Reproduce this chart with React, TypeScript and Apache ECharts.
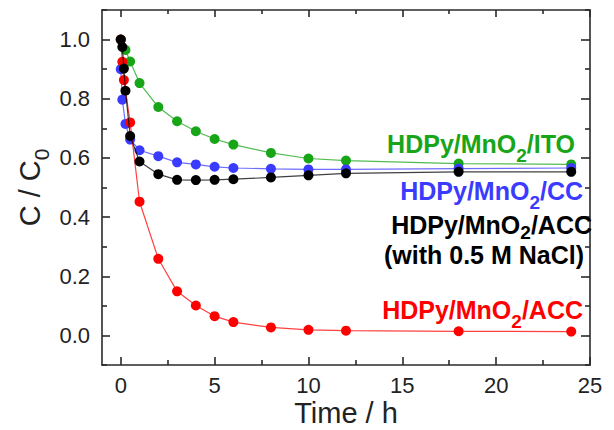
import React, { useEffect, useRef } from "react";
import * as echarts from "echarts";

// Time (h) and C/C0 for each electrode
const itoTime = [0, 0.25, 0.5, 1, 2, 3, 4, 5, 6, 8, 10, 12, 18, 24];
const itoRatio = [1.0, 0.965, 0.926, 0.853, 0.772, 0.724, 0.69, 0.664, 0.645, 0.617, 0.598, 0.591, 0.581, 0.578];

const ccTime = [0, 0.083, 0.25, 0.5, 1, 2, 3, 4, 5, 6, 8, 10, 12, 18, 24];
const ccRatio = [0.9, 0.797, 0.715, 0.662, 0.626, 0.606, 0.585, 0.578, 0.57, 0.566, 0.563, 0.561, 0.561, 0.564, 0.566];

const accTime = [0, 0.083, 0.167, 0.5, 1, 2, 3, 4, 5, 6, 8, 10, 12, 18, 24];
const accRatio = [1.0, 0.925, 0.863, 0.72, 0.452, 0.259, 0.149, 0.101, 0.065, 0.045, 0.027, 0.019, 0.016, 0.014, 0.013];

const naclTime = [0, 0.083, 0.167, 0.25, 0.5, 1, 2, 3, 4, 5, 6, 8, 10, 12, 18, 24];
const naclRatio = [1.0, 0.975, 0.902, 0.827, 0.674, 0.588, 0.545, 0.526, 0.525, 0.526, 0.528, 0.534, 0.541, 0.548, 0.553, 0.553];

// Axis ticks
const xMajorTicks = [0, 5, 10, 15, 20, 25];
const xMinorTicks = [2.5, 7.5, 12.5, 17.5, 22.5];
const yMajorTicks = [0, 0.2, 0.4, 0.6, 0.8, 1.0];
const yMinorTicks = [-0.1, 0.1, 0.3, 0.5, 0.7, 0.9, 1.1];

const GREEN = "#18a518";
const BLUE = "#3b3bff";
const RED = "#ff0000";
const BLACK = "#000000";

const FONT = '"Liberation Sans", Arial, Helvetica, sans-serif';
const AXIS_COLOR = "#2a2a2a";

const pairs = (t: number[], v: number[]) => t.map((x, i) => [x, v[i]]);

function makeSeries(name: string, t: number[], v: number[], color: string, z: number) {
  return {
    name,
    type: "line",
    data: pairs(t, v),
    xAxisIndex: 0,
    yAxisIndex: 0,
    symbol: "circle",
    symbolSize: 10,
    z,
    itemStyle: { color },
    lineStyle: { color, width: 1.2, opacity: 0.75 },
  };
}

function xAxisDef(position: "bottom" | "top", ticks: number[], len: number, main: boolean, line: boolean) {
  return {
    type: "value",
    position,
    min: -1,
    max: 25,
    axisLine: { show: line, onZero: false, lineStyle: { color: AXIS_COLOR, width: 1.6 } },
    axisTick: { show: true, inside: true, length: len, customValues: ticks, lineStyle: { color: AXIS_COLOR, width: 1.6 } },
    axisLabel: main
      ? { show: true, customValues: ticks, margin: 9, fontSize: 22, fontFamily: FONT, color: "#222" }
      : { show: false },
    splitLine: { show: false },
    ...(main
      ? {
          name: "Time / h",
          nameLocation: "middle",
          nameGap: 33,
          nameMoveOverlap: false,
          nameTextStyle: { fontSize: 29, fontFamily: FONT, color: "#222" },
        }
      : {}),
  };
}

function yAxisDef(position: "left" | "right", ticks: number[], len: number, main: boolean, line: boolean) {
  return {
    type: "value",
    position,
    min: -0.1,
    max: 1.1,
    axisLine: { show: line, onZero: false, lineStyle: { color: AXIS_COLOR, width: 1.6 } },
    axisTick: { show: true, inside: true, length: len, customValues: ticks, lineStyle: { color: AXIS_COLOR, width: 1.6 } },
    axisLabel: main
      ? {
          show: true,
          customValues: ticks,
          margin: 12,
          fontSize: 22,
          fontFamily: FONT,
          color: "#222",
          formatter: (v: number) => v.toFixed(1),
        }
      : { show: false },
    splitLine: { show: false },
    ...(main
      ? {
          name: "{m|C / C}{s|0}",
          nameLocation: "middle",
          nameRotate: 90,
          nameGap: 50,
          nameMoveOverlap: false,
          nameTextStyle: {
            color: "#222",
            rich: {
              m: { fontSize: 29, fontFamily: FONT, color: "#222" },
              s: { fontSize: 21, fontFamily: FONT, color: "#222", padding: [24, 0, 0, 0] },
            },
          },
        }
      : {}),
  };
}

function richStyles(color: string, subDrop: number) {
  return {
    m: { fontSize: 25, fontWeight: "bold", fontFamily: FONT, fill: color, color },
    s: { fontSize: 19, fontWeight: "bold", fontFamily: FONT, fill: color, color, padding: [subDrop, 0, 0, 0] },
    n: { fontSize: 25, fontWeight: "bold", fontFamily: FONT, fill: color, color, lineHeight: 26, padding: [0, 8, 0, 0] },
  };
}

function seriesLabel(text: string, color: string, right: number, y: number, subDrop = 22) {
  return {
    type: "text",
    x: right,
    y,
    z: 100,
    style: {
      text,
      align: "right",
      textAlign: "right",
      verticalAlign: "middle",
      textVerticalAlign: "middle",
      fill: color,
      rich: richStyles(color, subDrop),
    },
  };
}

export default function App() {
  const ref = useRef<HTMLDivElement>(null);

  useEffect(() => {
    if (!ref.current) return;
    const chart = echarts.init(ref.current, undefined, { renderer: "svg" });
    chart.setOption({
      animation: false,
      backgroundColor: "#ffffff",
      grid: { left: 102, right: 24, top: 10, bottom: 65, containLabel: false, outerBoundsMode: "none" },
      xAxis: [
        xAxisDef("bottom", xMajorTicks, 8, true, true),
        xAxisDef("bottom", xMinorTicks, 5, false, false),
        xAxisDef("top", xMajorTicks, 7, false, true),
        xAxisDef("top", xMinorTicks, 4, false, false),
      ],
      yAxis: [
        yAxisDef("left", yMajorTicks, 8, true, true),
        yAxisDef("left", yMinorTicks, 5, false, false),
        yAxisDef("right", yMajorTicks, 9, false, true),
        yAxisDef("right", yMinorTicks, 5, false, false),
      ],
      series: [
        makeSeries("HDPy/MnO2/ITO", itoTime, itoRatio, GREEN, 2),
        makeSeries("HDPy/MnO2/CC", ccTime, ccRatio, BLUE, 3),
        makeSeries("HDPy/MnO2/ACC", accTime, accRatio, RED, 4),
        makeSeries("HDPy/MnO2/ACC (with 0.5 M NaCl)", naclTime, naclRatio, BLACK, 5),
      ],
      graphic: [
        seriesLabel("{m|HDPy/MnO}{s|2}{m|/ITO}", GREEN, 575, 144),
        seriesLabel("{m|HDPy/MnO}{s|2}{m|/CC}", BLUE, 583, 191),
        seriesLabel("{m|HDPy/MnO}{s|2}{m|/ACC}\n{n|(with 0.5 M NaCl)}", BLACK, 592, 238, 14),
        seriesLabel("{m|HDPy/MnO}{s|2}{m|/ACC}", RED, 583, 310),
      ],
    });
    return () => chart.dispose();
  }, []);

  return (
    <div
      ref={ref}
      style={{ position: "fixed", left: 0, top: 0, width: 614, height: 430, background: "#fff" }}
    />
  );
}
